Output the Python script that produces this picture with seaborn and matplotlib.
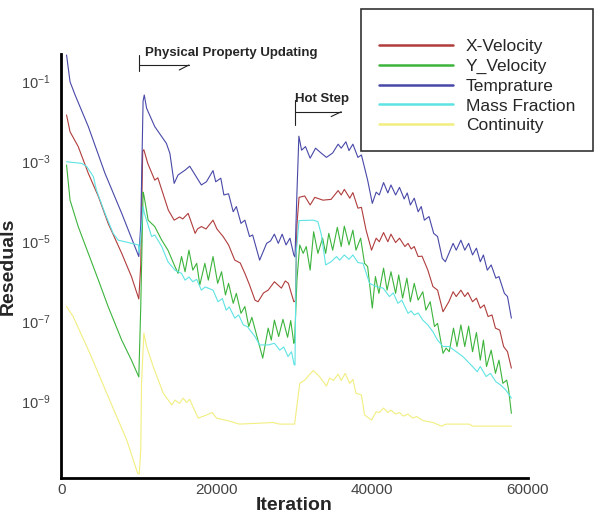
import numpy as np
import pandas as pd
import matplotlib
matplotlib.use('Agg')
import matplotlib.pyplot as plt
from matplotlib.ticker import MultipleLocator, NullLocator
import seaborn as sns

# (iteration in thousands, log10 residual)
x_velocity = [(0.65,-1.85),(1.1,-2.27),(2.15,-2.64),(3.45,-3.31),(4.75,-3.89),(6.0,-4.56),(7.75,-5.31),
              (9.0,-5.89),(9.95,-6.45),(10.2,-5.6),(10.45,-2.75),(10.6,-2.72),(11.1,-3.06),(12.0,-3.48),
              (12.4,-3.42),(13.75,-4.23),(14.5,-4.48),(15.2,-4.4),(15.6,-4.45),(16.3,-4.31),(17.2,-4.81),
              (17.5,-4.7),(18.0,-4.64),(18.6,-4.7),(19.5,-4.48),(20.0,-4.7),(20.8,-4.89),(21.5,-5.1),
              (22.3,-5.48),(23.0,-5.55),(23.6,-5.81),(24.2,-6.1),(24.9,-6.48),(25.3,-6.52),(26.0,-6.3),
              (26.6,-6.23),(27.4,-6.02),(28.3,-6.18),(28.8,-6.0),(29.2,-6.06),(29.9,-6.52),(30.1,-6.5),
              (30.3,-4.6),(30.57,-3.91),(31.3,-3.875),(32.0,-4.1),(32.6,-3.91),(33.65,-3.98),(34.7,-3.96),
              (35.6,-3.74),(36.0,-3.85),(36.4,-3.71),(37.1,-3.93),(37.5,-3.79),(38.15,-4.18),(38.6,-4.16),
              (39.2,-4.73),(39.9,-5.23),(40.5,-4.93),(40.9,-5.02),(41.45,-4.79),(42.0,-5.02),(42.4,-4.83),
              (43.0,-5.04),(43.5,-4.93),(44.2,-5.14),(44.6,-5.06),(45.0,-5.2),(45.4,-5.14),(45.9,-5.39),
              (46.4,-5.38),(47.15,-5.73),(47.8,-6.14),(48.4,-6.23),(49.1,-6.77),(49.85,-6.52),(50.4,-6.27),
              (50.8,-6.39),(51.4,-6.23),(51.9,-6.39),(52.3,-6.29),(52.9,-6.52),(53.4,-6.43),(53.9,-6.68),
              (54.4,-6.6),(54.9,-6.89),(55.4,-6.85),(55.85,-7.18),(56.4,-7.23),(56.9,-7.64),(57.4,-7.77),
              (57.9,-8.18)]

y_velocity = [(0.65,-3.1),(1.1,-3.98),(2.15,-4.64),(3.45,-5.31),(4.75,-5.98),(6.0,-6.64),(7.75,-7.48),
              (9.0,-7.98),(9.95,-8.4),(10.2,-6.64),(10.5,-3.78),(10.6,-3.85),(11.15,-4.48),(12.0,-4.64),
              (12.9,-4.98),(13.7,-5.23),(14.6,-5.64),(15.0,-5.81),(15.45,-5.39),(15.9,-5.77),(16.4,-5.23),
              (16.9,-5.73),(17.4,-5.56),(17.8,-6.1),(18.45,-5.56),(18.9,-5.98),(19.5,-5.39),(20.1,-6.06),
              (20.6,-5.77),(21.1,-6.35),(21.5,-6.06),(22.1,-6.56),(22.5,-6.31),(23.1,-6.81),(23.6,-6.64),
              (24.1,-7.14),(24.5,-6.91),(25.9,-7.93),(26.6,-7.18),(27.0,-7.48),(27.4,-6.98),(27.95,-7.39),
              (28.5,-6.96),(29.1,-7.41),(29.5,-6.99),(29.9,-7.56),(30.0,-7.52),(30.3,-5.98),(30.66,-5.1),
              (31.1,-5.31),(31.5,-5.14),(32.0,-5.73),(32.45,-4.77),(33.0,-5.31),(33.6,-4.93),(34.0,-5.31),
              (34.4,-4.81),(34.9,-5.23),(35.5,-4.66),(36.0,-5.14),(36.4,-4.63),(37.0,-5.1),(37.5,-4.73),
              (37.9,-5.23),(38.5,-4.93),(39.0,-5.56),(39.4,-5.64),(40.0,-6.68),(40.4,-5.89),(40.85,-6.31),
              (41.45,-5.68),(41.9,-6.23),(42.4,-5.77),(43.0,-6.31),(43.4,-5.85),(43.9,-6.43),(44.45,-5.93),
              (44.9,-6.52),(45.4,-6.06),(45.9,-6.48),(46.5,-6.27),(46.9,-6.73),(47.45,-6.52),(48.0,-7.14),
              (48.4,-7.06),(49.1,-7.81),(49.5,-7.68),(49.9,-7.77),(50.45,-7.18),(50.9,-7.64),(51.4,-7.1),
              (51.9,-7.64),(52.4,-7.13),(52.9,-7.77),(53.4,-7.29),(53.9,-7.98),(54.3,-7.48),(54.7,-8.14),
              (55.3,-7.73),(55.85,-8.31),(56.3,-7.98),(56.8,-8.56),(57.3,-8.48),(57.55,-8.73),(57.9,-9.31)]

temprature = [(0.65,-0.35),(1.1,-1.02),(1.75,-1.35),(3.45,-2.14),(5.6,-3.31),(7.75,-4.31),(9.95,-5.39),
              (10.2,-4.6),(10.5,-1.5),(10.65,-1.35),(10.95,-1.68),(12.0,-2.14),(13.5,-2.56),(13.95,-2.81),
              (14.5,-3.56),(15.0,-3.35),(15.9,-3.23),(16.5,-3.13),(17.2,-3.35),(18.0,-3.6),(18.65,-3.52),
              (19.5,-3.24),(19.85,-3.52),(20.5,-3.43),(20.9,-3.85),(21.5,-3.82),(22.1,-4.27),(22.5,-4.14),
              (23.1,-4.56),(23.6,-4.48),(24.2,-4.89),(24.6,-4.85),(25.5,-5.48),(26.4,-5.06),(26.9,-5.0),
              (27.4,-4.83),(27.9,-5.06),(28.4,-4.83),(28.9,-5.1),(29.4,-4.93),(29.9,-5.35),(30.05,-5.4),
              (30.3,-3.8),(30.55,-2.38),(30.9,-2.73),(31.4,-2.64),(32.0,-2.93),(32.7,-2.68),(33.4,-2.8),
              (34.1,-2.91),(34.9,-2.8),(35.6,-2.58),(36.0,-2.68),(36.6,-2.52),(37.0,-2.74),(37.5,-2.58),
              (38.15,-2.91),(38.6,-2.85),(39.4,-3.48),(40.0,-4.06),(40.5,-3.78),(40.9,-3.85),(41.45,-3.54),
              (42.0,-3.8),(42.4,-3.6),(43.0,-3.85),(43.5,-3.66),(44.1,-3.95),(44.5,-3.8),(44.9,-4.1),
              (45.4,-3.93),(45.9,-4.27),(46.3,-4.14),(46.7,-4.48),(47.3,-4.39),(47.9,-4.81),(48.4,-4.89),
              (49.0,-5.43),(49.4,-5.52),(50.4,-5.06),(50.8,-5.23),(51.4,-4.98),(51.9,-5.23),(52.4,-5.06),
              (52.9,-5.35),(53.4,-5.18),(53.9,-5.52),(54.3,-5.35),(54.8,-5.73),(55.3,-5.6),(55.9,-5.93),
              (56.3,-5.89),(57.0,-6.31),(57.4,-6.39),(57.9,-6.93)]

mass_fraction = [(0.65,-3.02),(2.6,-3.06),(3.25,-3.14),(4.1,-3.39),(4.5,-3.73),(5.6,-4.31),(6.65,-4.81),
                 (7.3,-4.98),(8.6,-5.04),(9.9,-5.1),(10.0,-5.3),(10.2,-4.9),(10.5,-4.14),(10.65,-4.3),
                 (11.6,-4.89),(12.0,-4.85),(12.9,-5.14),(13.7,-5.52),(14.6,-5.73),(15.45,-5.81),(15.9,-5.98),
                 (16.4,-5.9),(16.9,-6.02),(17.4,-5.96),(18.0,-6.23),(18.5,-6.15),(19.5,-6.23),(20.15,-6.52),
                 (20.7,-6.44),(21.2,-6.73),(21.6,-6.65),(22.3,-6.93),(22.8,-6.85),(23.4,-7.1),(23.9,-7.14),
                 (24.9,-7.39),(25.5,-7.6),(26.6,-7.6),(27.4,-7.56),(28.1,-7.73),(28.6,-7.65),(29.15,-7.89),
                 (29.6,-7.77),(29.95,-8.1),(30.05,-8.1),(30.2,-5.31),(30.57,-4.49),(32.4,-4.48),(33.0,-4.52),
                 (33.45,-4.85),(34.0,-5.6),(34.7,-5.52),(35.4,-5.39),(35.8,-5.48),(36.4,-5.35),(37.0,-5.46),
                 (37.5,-5.35),(38.15,-5.54),(38.8,-5.56),(39.65,-6.06),(40.5,-6.14),(41.4,-6.18),(42.2,-6.39),
                 (42.7,-6.3),(43.3,-6.56),(43.8,-6.48),(44.6,-6.81),(45.0,-6.75),(45.4,-6.85),(45.9,-6.8),
                 (46.5,-6.98),(47.15,-7.1),(47.8,-7.27),(48.4,-7.48),(49.1,-7.64),(49.9,-7.64),(50.8,-7.77),
                 (51.65,-7.89),(52.2,-8.0),(52.9,-8.14),(53.5,-8.27),(53.9,-8.14),(54.65,-8.39),(55.2,-8.31),
                 (55.9,-8.52),(56.5,-8.6),(57.2,-8.73),(57.9,-8.93)]

continuity = [(0.65,-6.64),(1.5,-6.89),(3.65,-7.81),(6.2,-8.98),(8.4,-9.98),(9.8,-10.81),(10.0,-10.83),
              (10.2,-10.23),(10.3,-8.56),(10.6,-7.31),(10.95,-7.64),(11.8,-8.14),(13.1,-8.81),(14.2,-9.1),
              (14.6,-8.98),(15.2,-9.06),(15.65,-8.93),(16.1,-9.04),(16.5,-8.96),(16.9,-9.14),(17.6,-9.43),
              (18.7,-9.35),(19.4,-9.29),(19.95,-9.43),(21.7,-9.51),(22.9,-9.58),(27.2,-9.54),(28.1,-9.58),
              (30.0,-9.58),(30.66,-8.56),(31.3,-8.48),(32.4,-8.24),(33.2,-8.39),(34.1,-8.63),(34.5,-8.43),
              (35.0,-8.49),(35.6,-8.33),(36.0,-8.49),(36.5,-8.31),(37.1,-8.56),(37.5,-8.46),(37.9,-8.81),
              (38.6,-8.85),(39.0,-9.35),(39.9,-9.48),(40.5,-9.27),(40.9,-9.29),(41.45,-9.18),(42.0,-9.29),
              (42.4,-9.23),(43.0,-9.33),(43.5,-9.29),(44.0,-9.38),(44.6,-9.33),(45.2,-9.43),(45.7,-9.39),
              (46.5,-9.49),(47.8,-9.54),(48.9,-9.63),(49.5,-9.58),(52.5,-9.58),(52.9,-9.63),(57.9,-9.63)]

names = ['X-Velocity', 'Y_Velocity', 'Temprature', 'Mass Fraction', 'Continuity']
colors = ['#b03c3c', '#3cb43c', '#4848a8', '#5fe3e3', '#f2ee80']
series = [x_velocity, y_velocity, temprature, mass_fraction, continuity]

rows = []
for name, pts in zip(names, series):
    for k, e in pts:
        rows.append((name, k * 1000, 10 ** e))
df = pd.DataFrame(rows, columns=['Series', 'Iteration', 'Residual'])

sns.set_style('white')
plt.rcParams['font.family'] = ['Liberation Sans', 'DejaVu Sans']
plt.rcParams['mathtext.fontset'] = 'custom'
plt.rcParams['mathtext.rm'] = 'Liberation Sans'

W, H = 595, 517
fig = plt.figure(figsize=(W / 100, H / 100), dpi=100)
ax = fig.add_axes([61.5 / W, 1 - 477.7 / H, (527.7 - 61.5) / W, (477.7 - 54) / H])

sns.lineplot(data=df, x='Iteration', y='Residual', hue='Series', hue_order=names,
             palette=dict(zip(names, colors)), sort=False, estimator=None,
             linewidth=0.8, ax=ax)

ax.set_yscale('log')
ax.set_xlim(0, 60000)
ax.set_ylim(10 ** -10.92, 10 ** -0.325)
yt = [1e-1, 1e-3, 1e-5, 1e-7, 1e-9]
ax.set_yticks(yt)
ax.set_yticklabels([r'$\mathregular{10^{-%d}}$' % p for p in [1, 3, 5, 7, 9]])
ax.yaxis.set_minor_locator(NullLocator())
ax.set_xticks([0, 20000, 40000, 60000])
ax.xaxis.set_minor_locator(MultipleLocator(5000))
ax.tick_params(which='major', direction='in', length=8, width=1.8, labelsize=11, labelcolor='#444444')
ax.tick_params(axis='y', labelsize=10.5, pad=8)
ax.tick_params(which='minor', direction='in', length=3.5, width=1.2)
ax.tick_params(axis='x', pad=4)

for s in ['top', 'right']:
    ax.spines[s].set_visible(False)
for s in ['left', 'bottom']:
    ax.spines[s].set_linewidth(2)
    ax.spines[s].set_color('black')

ax.set_xlabel('Iteration', fontsize=14, fontweight='bold', labelpad=0)
ax.set_ylabel('Reseduals', fontsize=14, fontweight='bold')
ax.yaxis.set_label_coords(-0.097, 0.5)

# annotations: bracket + half arrow + text
ann_col = '#222222'
ax.plot([10000, 10000], [10 ** -0.35, 10 ** -0.75], color=ann_col, lw=0.8, clip_on=False)
ax.plot([10000, 16400], [10 ** -0.6, 10 ** -0.6], color=ann_col, lw=0.8, clip_on=False)
ax.plot([16400, 15150], [10 ** -0.6, 10 ** -0.725], color=ann_col, lw=0.8, clip_on=False)
ax.text(10700, 10 ** -0.3, 'Physical Property Updating', fontsize=9.5, fontweight='bold',
        va='center', ha='left', clip_on=False)

ax.plot([30000, 30000], [10 ** -1.475, 10 ** -2.1], color=ann_col, lw=0.8, clip_on=False)
ax.plot([30000, 36000], [10 ** -1.77, 10 ** -1.77], color=ann_col, lw=0.8, clip_on=False)
ax.plot([36000, 34700], [10 ** -1.77, 10 ** -1.89], color=ann_col, lw=0.8, clip_on=False)
ax.text(30100, 10 ** -1.45, 'Hot Step', fontsize=9.5, fontweight='bold',
        va='center', ha='left', clip_on=False)

sns.move_legend(ax, loc='upper right', bbox_to_anchor=(593 / W, 1 - 9.3 / H),
                bbox_transform=fig.transFigure, title=' ', title_fontsize=5, frameon=True,
                fancybox=False, fontsize=12.5, handlelength=4.26, handletextpad=0.76,
                labelspacing=0.27, borderpad=1.02, borderaxespad=0, framealpha=1)
leg = ax.get_legend()
leg.get_frame().set_edgecolor('#333333')
leg.get_frame().set_linewidth(1.2)
for ln in leg.get_lines():
    ln.set_linewidth(1.8)

fig.savefig('out.png', dpi=100)
